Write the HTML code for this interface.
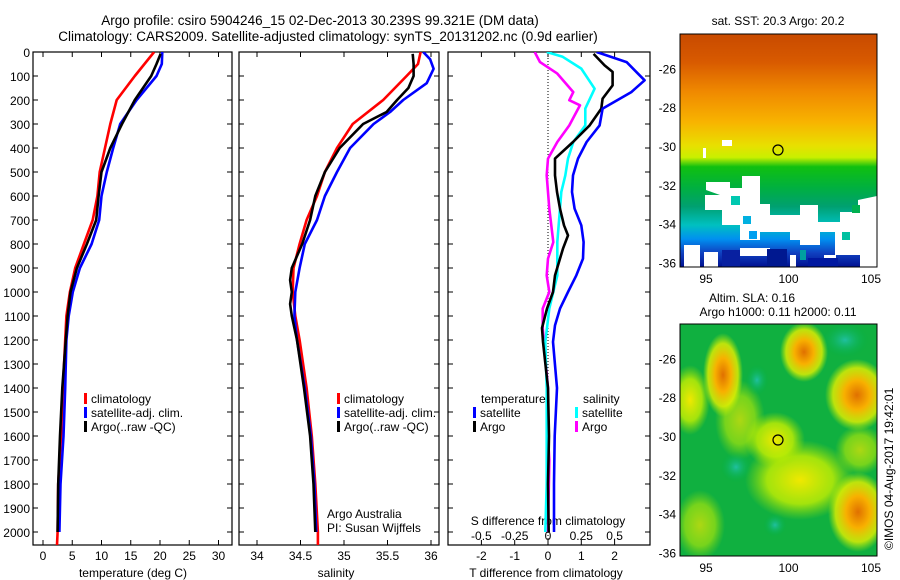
<!DOCTYPE html>
<html><head><meta charset="utf-8">
<style>
html,body{margin:0;padding:0;background:#fff;}
svg{display:block;font-family:"Liberation Sans",sans-serif;}
</style></head>
<body>
<svg id="s" width="900" height="580" viewBox="0 0 900 580">
<defs>
<linearGradient id="sstg" x1="0" y1="0" x2="0" y2="1">
<stop offset="0" stop-color="#c84a00"/><stop offset="0.12" stop-color="#d85a00"/>
<stop offset="0.25" stop-color="#f08a00"/><stop offset="0.38" stop-color="#f8b400"/>
<stop offset="0.48" stop-color="#e8e000"/><stop offset="0.53" stop-color="#c8f000"/>
<stop offset="0.57" stop-color="#10c010"/><stop offset="0.66" stop-color="#00b040"/>
<stop offset="0.74" stop-color="#00a070"/><stop offset="0.82" stop-color="#00c0c0"/>
<stop offset="0.88" stop-color="#0090f0"/><stop offset="0.94" stop-color="#1040c0"/>
<stop offset="1" stop-color="#001090"/></linearGradient>
<radialGradient id="blobO"><stop offset="0" stop-color="#e07000"/><stop offset="0.4" stop-color="#f8b000"/><stop offset="0.75" stop-color="#e8f000" stop-opacity="0.8"/><stop offset="1" stop-color="#c0f000" stop-opacity="0"/></radialGradient>
<radialGradient id="blobY"><stop offset="0" stop-color="#f0e800"/><stop offset="0.6" stop-color="#c8f000" stop-opacity="0.8"/><stop offset="1" stop-color="#a0e000" stop-opacity="0"/></radialGradient>
<radialGradient id="blobT"><stop offset="0" stop-color="#20c0a0"/><stop offset="1" stop-color="#00b040" stop-opacity="0"/></radialGradient>
<clipPath id="c1"><rect x="680" y="34" width="197" height="233"/></clipPath>
<clipPath id="c2"><rect x="680" y="324" width="197" height="232"/></clipPath>
<clipPath id="p1"><rect x="33" y="52" width="199" height="493"/></clipPath>
<clipPath id="p2"><rect x="239" y="52" width="200" height="493"/></clipPath>
<clipPath id="p3"><rect x="448" y="52" width="202" height="493"/></clipPath>
</defs>
<text x="320" y="25" font-size="13.5" text-anchor="middle">Argo profile: csiro 5904246_15 02-Dec-2013 30.239S 99.321E (DM data)</text>
<text x="328" y="41" font-size="13.5" text-anchor="middle">Climatology: CARS2009. Satellite-adjusted climatology: synTS_20131202.nc (0.9d earlier)</text>
<g id="g"></g>
<g>
<g clip-path="url(#c1)">
<rect x="680" y="34" width="197" height="233" fill="url(#sstg)"/>
<g fill="#fff">
<path d="M706 182 L730 182 L730 188 L742 188 L742 176 L760 176 L760 204 L770 204 L770 215 L800 215 L800 205 L818 205 L818 222 L840 222 L840 212 L858 212 L858 200 L877 196 L877 267 L860 267 L860 255 L835 255 L835 232 L820 232 L820 245 L800 245 L800 240 L790 240 L790 232 L760 232 L760 240 L740 240 L740 225 L722 225 L722 210 L705 210 L705 195 L720 195 L706 190 Z"/>
<rect x="684" y="245" width="16" height="22"/>
<rect x="704" y="252" width="14" height="15"/>
<rect x="740" y="248" width="30" height="8"/>
<rect x="790" y="255" width="6" height="12"/>
<rect x="824" y="255" width="12" height="8"/>
<rect x="722" y="140" width="10" height="6"/>
<rect x="703" y="148" width="3" height="10"/>
</g>
<rect x="731" y="196" width="9" height="9" fill="#00c8b0"/>
<rect x="743" y="216" width="8" height="8" fill="#00b0e0"/>
<rect x="749" y="231" width="8" height="8" fill="#00a0f0"/>
<rect x="842" y="232" width="8" height="8" fill="#00c0a0"/>
<rect x="852" y="205" width="8" height="8" fill="#00b050"/>
<rect x="800" y="250" width="6" height="10" fill="#00a0a0"/>
<rect x="767" y="249" width="20" height="18" fill="#001890"/>
<rect x="722" y="250" width="18" height="17" fill="#0820a0"/>
<rect x="808" y="258" width="30" height="9" fill="#0018a0"/>
</g>
<rect x="680" y="34" width="197" height="233" fill="none" stroke="#000" stroke-width="1"/>
<circle cx="778" cy="150" r="5" fill="none" stroke="#000" stroke-width="1.2"/>
<text x="778" y="25" font-size="12" text-anchor="middle">sat. SST: 20.3 Argo: 20.2</text>
</g>
<g>
<g clip-path="url(#c2)">
<rect x="680" y="324" width="197" height="232" fill="#10b040"/>
<ellipse cx="800" cy="480" rx="55" ry="40" fill="url(#blobY)"/>
<ellipse cx="775" cy="440" rx="30" ry="28" fill="url(#blobY)"/>
<ellipse cx="740" cy="420" rx="25" ry="40" fill="url(#blobY)" opacity="0.7"/>
<ellipse cx="690" cy="400" rx="20" ry="35" fill="url(#blobY)"/>
<ellipse cx="700" cy="525" rx="25" ry="35" fill="url(#blobY)" opacity="0.7"/>
<ellipse cx="860" cy="450" rx="25" ry="25" fill="url(#blobY)" opacity="0.7"/>
<ellipse cx="723" cy="375" rx="20" ry="42" fill="url(#blobO)"/>
<ellipse cx="804" cy="352" rx="24" ry="30" fill="url(#blobO)"/>
<ellipse cx="857" cy="395" rx="32" ry="36" fill="url(#blobO)"/>
<ellipse cx="858" cy="512" rx="30" ry="40" fill="url(#blobO)"/>
<ellipse cx="845" cy="340" rx="24" ry="18" fill="url(#blobT)"/>
<ellipse cx="736" cy="467" rx="16" ry="16" fill="url(#blobT)"/>
<ellipse cx="775" cy="525" rx="12" ry="12" fill="url(#blobT)"/>
<ellipse cx="757" cy="380" rx="12" ry="16" fill="url(#blobT)"/>
</g>
<rect x="680" y="324" width="197" height="232" fill="none" stroke="#000" stroke-width="1"/>
<circle cx="778" cy="440" r="5" fill="none" stroke="#000" stroke-width="1.2"/>
<text x="752" y="302" font-size="12" text-anchor="middle">Altim. SLA: 0.16</text>
<text x="778" y="316" font-size="12" text-anchor="middle">Argo h1000: 0.11 h2000: 0.11</text>
<text transform="translate(893,550) rotate(-90)" font-size="12">©IMOS 04-Aug-2017 19:42:01</text>
</g>
</svg>
<script>
const tClimDepth=[0,100,200,300,400,500,600,700,800,900,1000,1100,1200,1400,1600,1800,2000,2054];
const tClim=[19.0,15.7,12.6,11.5,10.6,9.7,9.3,8.5,7.0,5.5,4.6,4.0,3.8,3.4,3.1,2.6,2.5,2.4];
const tSatDepth=[0,50,100,200,300,400,500,600,700,800,900,1000,1100,1200,1400,1600,1800,2000];
const tSat=[20.4,20.3,19.4,16.0,13.2,12.0,10.9,10.0,9.6,8.3,6.3,5.1,4.4,4.0,3.8,3.5,3.0,2.8];
const tArgoDepth=[8,50,100,150,200,300,400,500,600,700,800,900,1000,1100,1200,1400,1600,1800,2000];
const tArgo=[20.1,19.4,18.5,17.1,15.7,13.5,11.5,10.0,9.5,9.1,7.5,5.8,4.7,4.2,3.9,3.3,2.9,2.6,2.5];
const sClimDepth=[0,50,100,200,300,400,500,600,700,800,900,1000,1100,1200,1400,1600,1800,2000,2054];
const sClim=[35.88,35.85,35.72,35.45,35.10,34.92,34.78,34.69,34.57,34.49,34.42,34.41,34.44,34.49,34.57,34.63,34.67,34.70,34.70];
const sSatDepth=[0,30,70,130,200,250,300,400,500,600,700,800,900,1000,1100,1200,1400,1600,1800,2000];
const sSat=[35.91,35.99,36.03,35.95,35.68,35.53,35.34,35.07,34.92,34.78,34.69,34.55,34.49,34.44,34.43,34.46,34.55,34.62,34.66,34.68];
const sArgoDepth=[8,50,100,150,200,250,300,400,500,600,700,800,900,950,1000,1050,1100,1200,1400,1600,1800,2000];
const sArgo=[35.79,35.80,35.80,35.74,35.61,35.49,35.22,34.95,34.78,34.67,34.61,34.52,34.40,34.38,34.40,34.38,34.40,34.46,34.54,34.61,34.65,34.67];
const dTSatDepth=[0,42,118,167,236,306,375,444,514,583,653,722,792,861,931,1000,1069,1139,1208,1400,1600,1800,2000];
const dTSat=[1.46,2.36,2.9,2.5,1.64,1.55,1.16,0.9,0.75,0.72,0.8,1.0,1.07,1.05,0.85,0.6,0.36,0.21,0.15,0.27,0.2,0.18,0.18];
const dTArgoDepth=[8,56,83,139,194,236,306,375,444,514,583,653,722,764,819,861,931,1000,1069,1150,1208,1400,1600,1800,2000];
const dTArgo=[1.37,1.7,1.94,1.94,1.64,1.6,1.25,0.75,0.21,0.21,0.27,0.36,0.48,0.6,0.45,0.36,0.21,0.15,-0.03,-0.18,-0.15,0.0,0.03,0.0,0.02];
const dSSatDepth=[0,20,69,153,236,306,375,444,514,583,653,792,931,1000,1069,1208,1400,1600,1800,2000];
const dSSat=[-0.01,0.11,0.25,0.35,0.28,0.28,0.19,0.15,0.13,0.10,0.09,0.07,0.07,0.04,0.01,-0.02,-0.01,-0.01,-0.01,-0.02];
const dSArgoDepth=[0,42,90,167,201,222,264,306,375,444,514,653,792,861,931,1000,1069,1150,1400,1600,1700,2000];
const dSArgo=[-0.1,-0.06,0.07,0.19,0.16,0.24,0.2,0.16,0.07,0.0,-0.01,0.01,0.04,0.0,-0.01,0.01,-0.04,-0.04,0.0,0.0,0.01,0.0];
const depthTicks=[0,100,200,300,400,500,600,700,800,900,1000,1100,1200,1300,1400,1500,1600,1700,1800,1900,2000];
const tempTicks=[0,5,10,15,20,25,30];
const salTicks=[34,34.5,35,35.5,36];
const salTickLabels=["34","34.5","35","35.5","36"];
const dTTicks=[-2,-1,0,1,2];
const dSTickLabels=["-0.5","-0.25","0","0.25","0.5"];
const dSTicks=[-0.5,-0.25,0,0.25,0.5];
const latTicks=[-26,-28,-30,-32,-34,-36];
const lonTicks=[95,100,105];

const yD=d=>52+d*0.24;
const xT=t=>43+t*5.85;
const xS=s=>257+(s-34)*87;
const xDT=v=>548+v*33.3;
const xDS=v=>548+v*133.2;
const NS="http://www.w3.org/2000/svg";
const g=document.getElementById('g');
function el(tag,attrs,parent){const e=document.createElementNS(NS,tag);for(const k in attrs)e.setAttribute(k,attrs[k]);(parent||g).appendChild(e);return e;}
function txt(x,y,s,anchor,size,parent){const t=el('text',{x:x,y:y,'font-size':size||12,'text-anchor':anchor||'start'},parent);t.textContent=s;return t;}
function line(depths,vals,xf,color,clip,name){
  let pts=depths.map((d,i)=>xf(vals[i]).toFixed(1)+','+yD(d).toFixed(1)).join(' ');
  const p=el('polyline',{points:pts,fill:'none',stroke:color,'stroke-width':2.6,'stroke-linejoin':'round','clip-path':'url(#'+clip+')'});
  
  
}
function frame(x0,x1,name){
  const r=el('rect',{x:x0,y:52,width:x1-x0,height:493,fill:'none',stroke:'#000','stroke-width':1.2});
  
  
  depthTicks.forEach(d=>{el('line',{x1:x0,x2:x0+5,y1:yD(d),y2:yD(d),stroke:'#000'});el('line',{x1:x1,x2:x1-5,y1:yD(d),y2:yD(d),stroke:'#000'});});
}
frame(33,232,'temperature-panel');
depthTicks.forEach(d=>{const t=txt(30,yD(d)+5,String(d),'end',12);});
tempTicks.forEach(v=>{el('line',{x1:xT(v),x2:xT(v),y1:52,y2:57,stroke:'#000'});el('line',{x1:xT(v),x2:xT(v),y1:545,y2:540,stroke:'#000'});const t=txt(xT(v),560,String(v),'middle',12);});
{const t=txt(133,577,'temperature (deg C)','middle',12);}
line(tClimDepth,tClim,xT,'#f00','p1','temperature-climatology-line');
line(tSatDepth,tSat,xT,'#00f','p1','temperature-satellite-line');
line(tArgoDepth,tArgo,xT,'#000','p1','temperature-argo-line');
frame(239,439,'salinity-panel');
salTicks.forEach((v,i)=>{el('line',{x1:xS(v),x2:xS(v),y1:52,y2:57,stroke:'#000'});el('line',{x1:xS(v),x2:xS(v),y1:545,y2:540,stroke:'#000'});const t=txt(xS(v),560,salTickLabels[i],'middle',12);});
{const t=txt(336,577,'salinity','middle',12);}
line(sClimDepth,sClim,xS,'#f00','p2','salinity-climatology-line');
line(sSatDepth,sSat,xS,'#00f','p2','salinity-satellite-line');
line(sArgoDepth,sArgo,xS,'#000','p2','salinity-argo-line');
frame(448,650,'difference-panel');
el('line',{x1:548,x2:548,y1:52,y2:545,stroke:'#000','stroke-dasharray':'1,2','stroke-width':1});
dTTicks.forEach(v=>{el('line',{x1:xDT(v),x2:xDT(v),y1:52,y2:57,stroke:'#000'});el('line',{x1:xDT(v),x2:xDT(v),y1:545,y2:540,stroke:'#000'});const t=txt(xDT(v),560,String(v),'middle',12);});
dSTicks.forEach((v,i)=>{const t=txt(xDS(v),540,dSTickLabels[i],'middle',12);});
{const t=txt(548,525,'S difference from climatology','middle',12);}
{const t=txt(546,577,'T difference from climatology','middle',12);}
line(dSArgoDepth,dSArgo,xDS,'#f0f','p3','s-diff-argo-line');
line(dSSatDepth,dSSat,xDS,'#0ff','p3','s-diff-satellite-line');
line(dTArgoDepth,dTArgo,xDT,'#000','p3','t-diff-argo-line');
line(dTSatDepth,dTSat,xDT,'#00f','p3','t-diff-satellite-line');
function leg(x,y,c,s,name){el('rect',{x:x,y:y-10,width:3,height:11,fill:c});const t=txt(x+7,y,s,'start',12);}
leg(84,403,'#f00','climatology','legend-climatology');
leg(84,417,'#00f','satellite-adj. clim.','legend-satellite');
leg(84,431,'#000','Argo(..raw -QC)','legend-argo');
leg(337,403,'#f00','climatology','legend-climatology-2');
leg(337,417,'#00f','satellite-adj. clim.','legend-satellite-2');
leg(337,431,'#000','Argo(..raw -QC)','legend-argo-2');
{const t=txt(481,403,'temperature','start',12);}
{const t=txt(583,403,'salinity','start',12);}
leg(473,417,'#00f','satellite','legend-t-satellite');
leg(473,431,'#000','Argo','legend-t-argo');
leg(575,417,'#0ff','satellite','legend-s-satellite');
leg(575,431,'#f0f','Argo','legend-s-argo');
{const t=txt(327,518,'Argo Australia','start',12);}
{const t=txt(327,532,'PI: Susan Wijffels','start',12);}
const latY1=l=>146+(-30-l)*19.4;
const latY2=l=>436+(-30-l)*19.4;
const lonX=l=>706+(l-95)*16.5;
latTicks.forEach(l=>{
 [[latY1],[latY2]].forEach(([f])=>{const y=f(l);el('line',{x1:680,x2:684,y1:y,y2:y,stroke:'#000'});el('line',{x1:877,x2:873,y1:y,y2:y,stroke:'#000'});const t=txt(676,y+5,String(l),'end',12);});
});
lonTicks.forEach(l=>{
 [[34,267],[324,556]].forEach(([t0,b])=>{const x=lonX(l);el('line',{x1:x,x2:x,y1:t0,y2:t0+4,stroke:'#000'});el('line',{x1:x,x2:x,y1:b,y2:b-4,stroke:'#000'});const t=txt(x,b+16,String(l),'middle',12);});
});
</script>
</body></html>
